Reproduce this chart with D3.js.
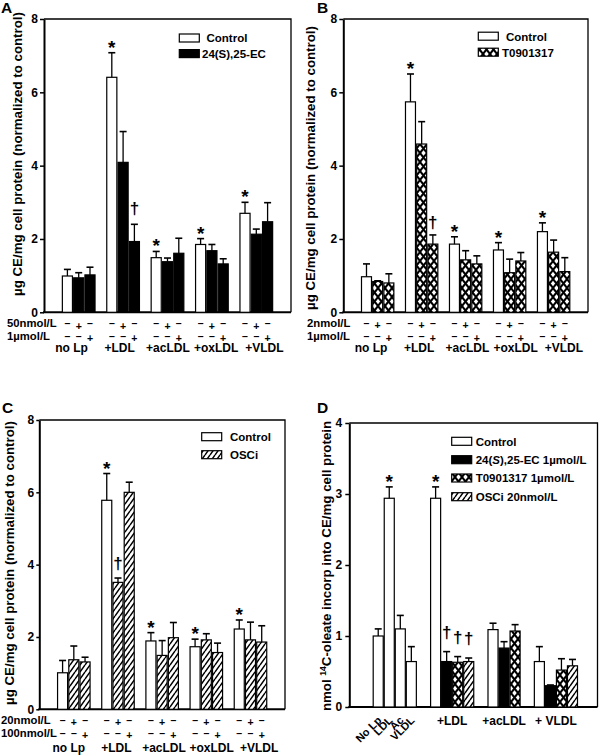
<!DOCTYPE html>
<html><head><meta charset="utf-8">
<script src="https://cdn.jsdelivr.net/npm/d3@7"></script>
<style>
body{margin:0;background:#fff}
svg{display:block}
text{font-family:"Liberation Sans",Arial,sans-serif;font-weight:bold}
</style>
</head><body>
<svg id="c" width="600" height="755"></svg>
<script>
// ---------------- DATA ----------------
const groupNames = ["no Lp", "+LDL", "+acLDL", "+oxLDL", "+VLDL"];
const yTicks8 = [0, 2, 4, 6, 8];
const yTicks4 = [0, 1, 2, 3, 4];
const signRows = [["\u2013", "+", "\u2013"], ["\u2013", "\u2013", "+"]];

// Panel A
const aLegend = ["Control", "24(S),25-EC"];
const aRowLabels = ["50nmol/L", "1\u00b5mol/L"];
const aControl = [0.99, 6.41, 1.49, 1.85, 2.70];
const aControlSE = [0.18, 0.67, 0.17, 0.16, 0.30];
const aEC50 = [0.94, 4.09, 1.38, 1.68, 2.13];
const aEC50SE = [0.14, 0.84, 0.10, 0.17, 0.14];
const aEC1 = [1.02, 1.93, 1.61, 1.32, 2.47];
const aEC1SE = [0.21, 0.47, 0.41, 0.14, 0.52];
const aStars = [[1, 0], [2, 0], [3, 0], [4, 0]];
const aDaggers = [[1, 2]];

// Panel B
const bLegend = ["Control", "T0901317"];
const bRowLabels = ["2nmol/L", "1\u00b5mol/L"];
const bControl = [0.97, 5.74, 1.86, 1.70, 2.20];
const bControlSE = [0.35, 0.76, 0.20, 0.20, 0.24];
const bT2 = [0.84, 4.59, 1.43, 1.08, 1.64];
const bT2SE = [0.02, 0.61, 0.25, 0.37, 0.33];
const bT1 = [0.80, 1.86, 1.32, 1.40, 1.11];
const bT1SE = [0.25, 0.25, 0.22, 0.23, 0.38];
const bStars = [[1, 0], [2, 0], [3, 0], [4, 0]];
const bDaggers = [[1, 2]];

// Panel C
const cLegend = ["Control", "OSCi"];
const cRowLabels = ["20nmol/L", "100nmol/L"];
const cControl = [1.01, 5.78, 1.89, 1.73, 2.22];
const cControlSE = [0.34, 0.74, 0.23, 0.21, 0.25];
const cO20 = [1.37, 3.51, 1.49, 1.92, 1.92];
const cO20SE = [0.38, 0.12, 0.41, 0.17, 0.49];
const cO100 = [1.31, 6.00, 1.98, 1.57, 1.86];
const cO100SE = [0.13, 0.28, 0.42, 0.26, 0.45];
const cStars = [[1, 0], [2, 0], [3, 0], [4, 0]];
const cDaggers = [[1, 1]];

// Panel D
const dLegend = ["Control", "24(S),25-EC 1\u00b5mol/L", "T0901317 1\u00b5mol/L", "OSCi 20nmol/L"];
const dBaseLabels = ["No Lp", "LDL", "Ac", "VLDL"];
const dBase = [1.00, 2.94, 1.10, 0.64];
const dBaseSE = [0.10, 0.16, 0.19, 0.21];
const dGroups = ["+LDL", "+acLDL", "+ VLDL"];
const dControl = [2.94, 1.09, 0.64];
const dControlSE = [0.16, 0.09, 0.21];
const dEC = [0.64, 0.83, 0.30];
const dECSE = [0.14, 0.09, 0.01];
const dT09 = [0.63, 1.07, 0.52];
const dT09SE = [0.08, 0.09, 0.16];
const dOSCi = [0.64, null, 0.58];
const dOSCiSE = [0.05, null, 0.09];
const dBaseStars = [1];
const dStars = [[0, 0]];
const dDaggers = [[0, 1], [0, 2], [0, 3]];

// ---------------- DRAWING ----------------
const FONT = '"Liberation Sans", Arial, sans-serif';
const svg = d3.select("#c");
const defs = svg.append("defs");
const pc = defs.append("pattern").attr("id", "cross").attr("patternUnits", "userSpaceOnUse")
  .attr("width", 7).attr("height", 9);
pc.append("rect").attr("width", 7).attr("height", 9).attr("fill", "#fff");
pc.append("path").attr("d", "M0,0L7,9M7,0L0,9").attr("stroke", "#000").attr("stroke-width", 2).attr("fill", "none");
const ph = defs.append("pattern").attr("id", "hatch").attr("patternUnits", "userSpaceOnUse")
  .attr("width", 5).attr("height", 7);
ph.append("rect").attr("width", 5).attr("height", 7).attr("fill", "#fff");
ph.append("path").attr("d", "M-5,7L0,0M0,7L5,0M5,7L10,0").attr("stroke", "#000").attr("stroke-width", 1.5).attr("fill", "none");

const FILL = { white: "#fff", black: "#000", cross: "url(#cross)", hatch: "url(#hatch)" };

function txt(g, x, y, s, size, anchor) {
  return g.append("text").attr("x", x).attr("y", y).text(s)
    .attr("font-size", size).attr("text-anchor", anchor || "start").attr("font-family", FONT).attr("font-weight", "bold");
}
function dagger(g, x, y) {
  return g.append("text").attr("x", x).attr("y", y).text("\u2020").attr("font-size", 17).attr("fill", "#000")
    .attr("text-anchor", "middle").attr("font-family", '"DejaVu Sans", sans-serif').attr("font-weight", "bold");
}

function frame(cfg) {
  const g = svg.append("g");
  const y = d3.scaleLinear().domain([0, cfg.yMax]).range([cfg.bottom, cfg.top]);
  g.append("path").attr("d", `M${cfg.left},${cfg.top}H${cfg.right}V${cfg.bottom}`)
    .attr("fill", "none").attr("stroke", "#000").attr("stroke-width", 1.3);
  const ax = g.append("g").attr("transform", `translate(${cfg.left},0)`)
    .call(d3.axisLeft(y).tickValues(cfg.ticks).tickSize(cfg.tickSize).tickSizeOuter(0)
      .tickPadding(cfg.tickPad).tickFormat(d3.format("d")));
  ax.select(".domain").attr("stroke-width", 2);
  ax.selectAll(".tick line").attr("stroke-width", 1.5);
  ax.selectAll("text").attr("font-size", 12).attr("font-weight", "bold").attr("font-family", FONT);
  g.append("line").attr("x1", cfg.left - 1).attr("x2", cfg.right).attr("y1", cfg.bottom).attr("y2", cfg.bottom)
    .attr("stroke", "#000").attr("stroke-width", 2);
  txt(g, cfg.labelX, cfg.labelY, cfg.label, 15.5);
  return { g, y };
}

function drawBar(g, y, x, w, v, se, fill) {
  g.append("rect").attr("x", x).attr("y", y(v)).attr("width", w).attr("height", y(0) - y(v))
    .attr("fill", fill).attr("stroke", "#000").attr("stroke-width", 1.2);
  const cx = x + w / 2, t = y(v + se);
  g.append("line").attr("x1", cx).attr("x2", cx).attr("y1", y(v)).attr("y2", t).attr("stroke", "#000").attr("stroke-width", 1.3);
  g.append("line").attr("x1", cx - 3.5).attr("x2", cx + 3.5).attr("y1", t).attr("y2", t).attr("stroke", "#000").attr("stroke-width", 1.6);
  return { cx, t };
}

function legend(g, cfg, names, fills) {
  names.forEach((n, i) => {
    const by = cfg.legY[i];
    g.append("rect").attr("x", cfg.legX).attr("y", by).attr("width", 20).attr("height", 8)
      .attr("fill", fills[i]).attr("stroke", "#000").attr("stroke-width", 1.2);
    const t = txt(g, cfg.legTX[i], by + 8.3, "", 11.5);
    if (n.indexOf("(S)") >= 0 && cfg.italicS) {
      const parts = n.split("S");
      t.append("tspan").text(parts[0]);
      t.append("tspan").attr("font-style", "italic").text("S");
      t.append("tspan").text(parts.slice(1).join("S"));
    } else t.text(n);
  });
}

function yTitle(g, x, yc, s) {
  g.append("text").attr("transform", `translate(${x},${yc}) rotate(-90)`).attr("text-anchor", "middle")
    .attr("font-size", 13.3).attr("font-family", FONT).attr("font-weight", "bold").text(s);
}

function groupedPanel(cfg) {
  const { g, y } = frame(cfg);
  const x0 = d3.scaleBand().domain(groupNames).range([cfg.left, cfg.right]).paddingInner(0.237).paddingOuter(0.4);
  const x1 = d3.scaleBand().domain(d3.range(cfg.series.length)).range([0, x0.bandwidth()]);
  const xl = d3.scalePoint().domain(groupNames).range([cfg.left + cfg.labStart, cfg.left + cfg.labStart + 4 * cfg.labStep]);
  const pos = {};
  cfg.series.forEach((s, si) => {
    groupNames.forEach((gn, gi) => {
      const bx = x0(gn) + x1(si) + 0.6;
      const r = drawBar(g, y, bx, x1.bandwidth() - 1.2, s.values[gi], s.se[gi], FILL[s.fill]);
      pos[gi + "_" + si] = r;
      signRows.forEach((row, ri) => {
        const ch = row[si];
        txt(g, r.cx, cfg.rowY[ri] + (ch === "+" ? 2.3 : 0), ch, 10.5, "middle");
      });
    });
  });
  cfg.stars.forEach(([gi, si]) => { const p = pos[gi + "_" + si]; txt(g, p.cx, p.t + 1, "*", 19, "middle"); });
  cfg.daggers.forEach(([gi, si]) => { const p = pos[gi + "_" + si]; dagger(g, p.cx, p.t - cfg.dagOff); });
  cfg.rowLabels.forEach((s, i) => txt(g, cfg.rowLabelX, cfg.rowY[i], s, 11.3));
  groupNames.forEach(gn => txt(g, xl(gn), cfg.groupY, gn, 12, "middle"));
  legend(g, cfg, cfg.legend, cfg.legFills.map(f => FILL[f]));
  yTitle(g, cfg.titleX, cfg.titleY, "\u00b5g CE/mg cell protein (normalized to control)");
}

groupedPanel({
  left: 44, right: 291, top: 19, bottom: 312.3, yMax: 8, ticks: yTicks8, tickSize: 4, tickPad: 2,
  label: "A", labelX: 1, labelY: 13,
  series: [{ values: aControl, se: aControlSE, fill: "white" }, { values: aEC50, se: aEC50SE, fill: "black" }, { values: aEC1, se: aEC1SE, fill: "black" }],
  stars: aStars, daggers: aDaggers, dagOff: 10,
  rowLabels: aRowLabels, rowLabelX: 7, rowY: [327.3, 339.5], groupY: 352, labStart: 27.5, labStep: 48.2,
  legend: aLegend, legFills: ["white", "black"], legX: 179.3, legY: [34, 49.6], legTX: [206.5, 202],
  titleX: 22, titleY: 154
});

groupedPanel({
  left: 343.3, right: 588, top: 19, bottom: 312.3, yMax: 8, ticks: yTicks8, tickSize: 4, tickPad: 2,
  label: "B", labelX: 317, labelY: 13,
  series: [{ values: bControl, se: bControlSE, fill: "white" }, { values: bT2, se: bT2SE, fill: "cross" }, { values: bT1, se: bT1SE, fill: "cross" }],
  stars: bStars, daggers: bDaggers, dagOff: 7,
  rowLabels: bRowLabels, rowLabelX: 307, rowY: [326.7, 339.5], groupY: 351.5, labStart: 27.7, labStep: 48.2,
  legend: bLegend, legFills: ["white", "cross"], legX: 478.3, legY: [32.2, 48.2], legTX: [506, 502],
  titleX: 315, titleY: 168
});

groupedPanel({
  left: 39.3, right: 285, top: 420, bottom: 709.3, yMax: 8, ticks: yTicks8, tickSize: 3, tickPad: 2,
  label: "C", labelX: 2, labelY: 413,
  series: [{ values: cControl, se: cControlSE, fill: "white" }, { values: cO20, se: cO20SE, fill: "hatch" }, { values: cO100, se: cO100SE, fill: "hatch" }],
  stars: cStars, daggers: cDaggers, dagOff: 9,
  rowLabels: cRowLabels, rowLabelX: 1, rowY: [724, 736.5], groupY: 752, labStart: 29.5, labStep: 47.6,
  legend: cLegend, legFills: ["white", "hatch"], legX: 201.7, legY: [432.7, 450.7], legTX: [230, 230],
  titleX: 13.7, titleY: 563
});

// Panel D
(function () {
  const cfg = {
    left: 349.3, right: 597.5, top: 423, bottom: 707, yMax: 4, ticks: yTicks4, tickSize: 4, tickPad: 3,
    label: "D", labelX: 317, labelY: 413, legX: 451.7, legY: [437.3, 455.7, 474, 492.7],
    legTX: [475.7, 475.7, 475.7, 475.7], italicS: true
  };
  const { g, y } = frame(cfg);
  const dSeries = [[dControl, dControlSE, "white"], [dEC, dECSE, "black"], [dT09, dT09SE, "cross"], [dOSCi, dOSCiSE, "hatch"]];
  const clusters = [dBaseLabels.map((l, i) => ({ v: dBase[i], se: dBaseSE[i], fill: "white", lab: l, key: "b" + i }))];
  dGroups.forEach((gn, gi) => {
    const items = [];
    dSeries.forEach(([vals, ses, f], si) => { if (vals[gi] != null) items.push({ v: vals[gi], se: ses[gi], fill: f, key: gi + "_" + si }); });
    clusters.push(items);
  });
  const GAP = 1.2;
  let u = 0; const starts = [];
  clusters.forEach((c, ci) => { starts.push(u); u += c.length + (ci < clusters.length - 1 ? GAP : 0); });
  const xs = d3.scaleLinear().domain([0, u]).range([372.7, 578]);
  const unit = xs(1) - xs(0);
  const pos = {};
  clusters.forEach((c, ci) => {
    c.forEach((it, k) => {
      const bx = xs(starts[ci] + k) + 0.5;
      pos[it.key] = drawBar(g, y, bx, unit - 1, it.v, it.se, FILL[it.fill]);
      if (it.lab) {
        g.append("text").attr("transform", `translate(${pos[it.key].cx + 4},721) rotate(-45)`)
          .attr("text-anchor", "end").attr("font-size", 11).attr("font-family", FONT).attr("font-weight", "bold").text(it.lab);
      }
    });
    if (ci > 0) {
      const cxm = (xs(starts[ci]) + xs(starts[ci] + c.length)) / 2;
      txt(g, cxm, 724.5, dGroups[ci - 1], 12, "middle");
    }
  });
  dBaseStars.forEach(i => { const p = pos["b" + i]; txt(g, p.cx, p.t + 1, "*", 19, "middle"); });
  dStars.forEach(([gi, si]) => { const p = pos[gi + "_" + si]; txt(g, p.cx, p.t + 1, "*", 19, "middle"); });
  dDaggers.forEach(([gi, si]) => { const p = pos[gi + "_" + si]; dagger(g, p.cx, p.t - 14); });
  legend(g, cfg, dLegend, ["white", "black", "cross", "hatch"].map(f => FILL[f]));
  const t = g.append("text").attr("transform", `translate(331,566) rotate(-90)`).attr("text-anchor", "middle")
    .attr("font-size", 13.3).attr("font-family", FONT).attr("font-weight", "bold");
  t.append("tspan").text("nmol ");
  t.append("tspan").attr("font-size", 8.5).attr("dy", -5).text("14");
  t.append("tspan").attr("dy", 5).text("C-oleate incorp into CE/mg cell protein");
})();
</script>
</body></html>
